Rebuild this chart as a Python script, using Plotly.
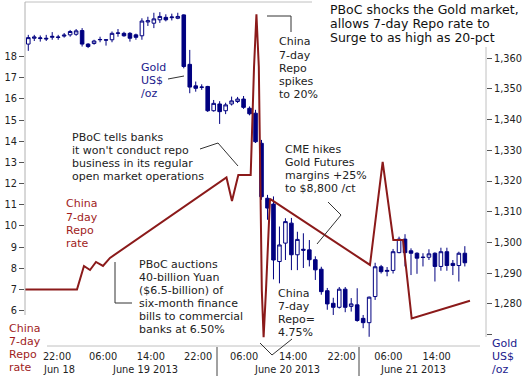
import plotly.graph_objects as go

# ---------------- data ----------------
# hourly gold bars, bar 0 = Jun 18 17:00
bar_index = list(range(74))
gold_open = [1364.6, 1366.5, 1366.4, 1366.5, 1366.8, 1366.9, 1367.2, 1367.6, 1367.8, 1369.0,
             1364.6, 1364.8, 1366.0, 1366.0, 1366.0, 1368.1, 1368.1, 1368.1, 1367.6, 1367.3,
             1371.8, 1371.4, 1372.5, 1373.3, 1373.2, 1373.0, 1374.1, 1358.0, 1351.0, 1350.5,
             1350.8, 1342.9, 1345.1, 1342.9, 1345.1, 1345.9, 1346.7, 1343.7, 1342.1, 1332.3,
             1314.4, 1312.5, 1293.8, 1299.8, 1306.3, 1296.0, 1297.8, 1297.6, 1294.4, 1291.3,
             1284.3, 1280.2, 1278.9, 1284.8, 1279.2, 1279.7, 1275.3, 1273.9, 1282.4, 1292.1,
             1290.6, 1290.9, 1296.7, 1301.1, 1297.3, 1296.5, 1295.1, 1295.2, 1296.5, 1292.2,
             1297.0, 1293.2, 1292.5, 1296.5]
gold_high = [1367.6, 1367.6, 1367.4, 1367.6, 1368.5, 1367.6, 1368.2, 1369.2, 1369.5, 1369.8,
             1364.9, 1366.0, 1367.0, 1366.2, 1368.7, 1369.5, 1368.6, 1368.5, 1368.0, 1373.0,
             1373.5, 1374.8, 1375.0, 1374.3, 1374.5, 1374.8, 1374.3, 1362.7, 1352.4, 1351.5,
             1351.0, 1346.4, 1346.0, 1345.5, 1347.5, 1347.4, 1347.7, 1344.3, 1343.2, 1333.4,
             1315.5, 1315.0, 1305.2, 1307.9, 1308.0, 1303.5, 1303.0, 1300.8, 1295.5, 1292.1,
             1285.2, 1282.0, 1285.5, 1285.5, 1281.9, 1285.1, 1276.4, 1282.4, 1293.4, 1292.7,
             1292.0, 1297.9, 1301.9, 1302.7, 1298.1, 1296.8, 1296.5, 1297.8, 1296.8, 1298.3,
             1298.3, 1294.3, 1297.0, 1298.8]
gold_low = [1362.4, 1365.6, 1365.4, 1365.6, 1366.0, 1366.0, 1366.7, 1367.0, 1367.3, 1363.8,
            1363.3, 1364.4, 1365.2, 1364.1, 1365.2, 1367.0, 1367.0, 1365.4, 1366.0, 1366.0,
            1370.5, 1369.8, 1371.5, 1372.0, 1372.3, 1372.7, 1356.7, 1348.6, 1349.1, 1349.7,
            1342.5, 1342.6, 1338.6, 1341.8, 1344.6, 1345.4, 1343.5, 1341.4, 1332.4, 1313.9,
            1307.4, 1288.0, 1286.7, 1294.3, 1291.0, 1291.0, 1291.7, 1292.2, 1287.8, 1283.0,
            1278.1, 1276.4, 1278.5, 1277.3, 1277.5, 1274.2, 1272.1, 1269.3, 1281.3, 1289.9,
            1289.0, 1289.9, 1296.5, 1292.2, 1289.4, 1289.8, 1292.2, 1294.3, 1287.3, 1290.8,
            1290.8, 1289.4, 1287.3, 1292.2]
gold_close = [1366.7, 1366.9, 1366.6, 1366.3, 1367.1, 1366.8, 1367.5, 1368.7, 1368.9, 1364.6,
              1363.8, 1365.6, 1366.1, 1365.9, 1368.1, 1368.2, 1367.3, 1366.5, 1366.8, 1372.1,
              1372.2, 1372.8, 1373.6, 1372.5, 1373.4, 1373.6, 1357.3, 1350.6, 1350.2, 1350.6,
              1342.9, 1345.3, 1342.6, 1344.8, 1346.1, 1346.7, 1344.0, 1341.9, 1332.8, 1314.9,
              1311.2, 1294.3, 1299.2, 1306.8, 1296.0, 1301.0, 1297.5, 1294.4, 1291.1, 1284.0,
              1280.0, 1278.9, 1284.8, 1278.9, 1280.0, 1274.6, 1273.9, 1282.2, 1292.1, 1290.5,
              1290.9, 1297.0, 1301.1, 1296.7, 1296.5, 1294.9, 1295.2, 1296.3, 1292.2, 1297.0,
              1292.5, 1292.5, 1296.5, 1293.4]

# China 7-day repo rate (time in bar units, rate in %)
repo_time = [-0.55, 8.14, 9.31, 10.32, 11.32, 12.49, 13.66, 33.14, 34.06, 35.12, 37.19,
             37.75, 38.15, 38.55, 39.05, 39.35, 39.75, 40.42, 57.14, 59.26, 61.04, 62.66,
             64.11, 73.86]
repo_rate = [7.0, 7.0, 8.11, 7.92, 8.30, 8.11, 8.49, 12.29, 11.18, 12.41, 12.41,
             17.51, 20.0, 17.51, 6.97, 4.75, 6.97, 11.28, 8.16, 13.03, 9.34, 9.34,
             5.63, 6.47]

time_tick_pos = [4.8, 12.5, 20.5, 28.4, 36.1, 44.3, 52.4, 60.2, 68.3]
time_tick_text = ["22:00", "06:00", "14:00", "22:00", "06:00", "14:00", "22:00", "06:00", "14:00"]
date_labels = ["Jun 18", "June 19 2013", "June 20 2013", "June 21 2013"]
gold_ticks = [1270, 1280, 1290, 1300, 1310, 1320, 1330, 1340, 1350, 1360]
gold_tick_text = ["", "1,280", "1,290", "1,300", "1,310", "1,320", "1,330", "1,340", "1,350", "1,360"]
repo_ticks = [6, 7, 8, 9, 10, 11, 12, 13, 14, 15, 16, 17, 18]

# ---------------- layout helpers ----------------
W, H = 530, 376
L, R, T, B = 25, 486, 2, 346
FONT = "DejaVu Sans"
NAVY = "#000080"
RED = "#8b1a1a"
TXT = "#222222"


def px(x):
    return (x - L) / (R - L)


def py(y):
    return (B - y) / (B - T)


annotations = []
shapes = []


def block(lines, x, y0, dy, color=TXT, size=11, anchor="left"):
    for k, s in enumerate(lines):
        annotations.append(dict(text=s, x=px(x), y=py(y0 + k * dy), xref="paper", yref="paper",
                                xanchor=anchor, yanchor="middle", showarrow=False,
                                font=dict(family=FONT, size=size, color=color)))


def poly(pts, color="#333333", width=1):
    for (x0, y0), (x1, y1) in zip(pts[:-1], pts[1:]):
        shapes.append(dict(type="line", xref="paper", yref="paper",
                           x0=px(x0), y0=py(y0), x1=px(x1), y1=py(y1),
                           line=dict(color=color, width=width)))


# frame lines
poly([(25, 2), (312, 2)], color="#c0c0c0")
poly([(25, 2), (25, 315)], color="#b0b0b0")
poly([(47, 346), (480, 346)], color="#c0c0c0")
poly([(486, 47), (486, 337)], color="#c0c0c0")
# day dividers
poly([(217, 347), (217, 376)], color="#444444")
poly([(359, 347), (359, 376)], color="#444444")

# texts
block(["PBoC shocks the Gold market,", "allows 7-day Repo rate to", "Surge to as high as 20-pct"],
      328, 9.5, 14, color="#111111", size=12.5)
block(["China", "7-day", "Repo", "spikes", "to 20%"], 277, 42, 13.1)
poly([(267, 16), (291, 16), (291, 32)])
block(["Gold", "US$", "/oz"], 139, 67, 13.3, color="#1a1a8c")
poly([(168, 79), (184, 76)])
block(["PBoC tells banks", "it won't conduct repo", "business in its regular", "open market operations"],
      70, 137, 13)
poly([(200, 149), (218, 143), (238, 166)])
block(["CME hikes", "Gold Futures", "margins +25%", "to $8,800 /ct"], 283, 149, 13.2)
poly([(328, 202), (341, 215), (317, 244)])
block(["China", "7-day", "Repo", "rate"], 64, 204, 13.3, color="#a01c1c")
block(["PBoC auctions", "40-billion Yuan", "($6.5-billion) of", "six-month finance",
       "bills to commercial", "banks at 6.50%"], 137, 264, 13)
poly([(115, 262), (115, 303), (132, 303)])
block(["China", "7-day", "Repo=", "4.75%"], 276, 293, 13)
poly([(260, 343), (272, 355), (292, 339)])
block(["China", "7-day", "Repo", "rate"], 7, 328, 13.2, color="#a01c1c")
block(["Gold", "US$", "/oz"], 490, 343, 13.4, color="#1a1a8c")

# date labels
for lab, xc in zip(date_labels, [59, 145, 287, 413]):
    block([lab], xc, 370, 0, size=9.8, anchor="center")

# ---------------- figure ----------------
fig = go.Figure()
fig.add_trace(go.Candlestick(
    x=bar_index, open=gold_open, high=gold_high, low=gold_low, close=gold_close,
    increasing=dict(line=dict(color=NAVY, width=1), fillcolor="white"),
    decreasing=dict(line=dict(color=NAVY, width=1), fillcolor=NAVY),
    whiskerwidth=0, yaxis="y", showlegend=False, hoverinfo="skip"))
fig.add_trace(go.Scatter(
    x=repo_time, y=repo_rate, mode="lines", yaxis="y2",
    line=dict(color=RED, width=2), showlegend=False, hoverinfo="skip"))

fig.update_layout(
    width=W, height=H,
    margin=dict(l=L, r=W - R, t=T, b=H - B),
    paper_bgcolor="white", plot_bgcolor="white",
    font=dict(family=FONT, size=10, color=TXT),
    boxgap=0.15,
    xaxis=dict(range=[-0.55, 76.54], showgrid=False, zeroline=False, showline=False,
               tickvals=time_tick_pos, ticktext=time_tick_text, ticks="",
               ticklabelstandoff=3,
               tickfont=dict(size=9.8, color=TXT), rangeslider=dict(visible=False),
               fixedrange=True),
    yaxis=dict(side="right", range=[1266.3, 1378.3], showgrid=False, zeroline=False,
               showline=False, tickvals=gold_ticks, ticktext=gold_tick_text,
               ticks="outside", ticklen=5, tickcolor="#555555",
               tickfont=dict(size=9.8, color=TXT)),
    yaxis2=dict(side="left", overlaying="y", range=[4.33, 20.58], showgrid=False,
                zeroline=False, showline=False, tickvals=repo_ticks,
                ticks="outside", ticklen=5, tickcolor="#555555",
                tickfont=dict(size=9.8, color=TXT)),
    annotations=annotations, shapes=shapes,
)

fig.write_html("out.html", config={"displayModeBar": False},
               post_script="document.body.style.margin='0';document.body.style.overflow='hidden';")
